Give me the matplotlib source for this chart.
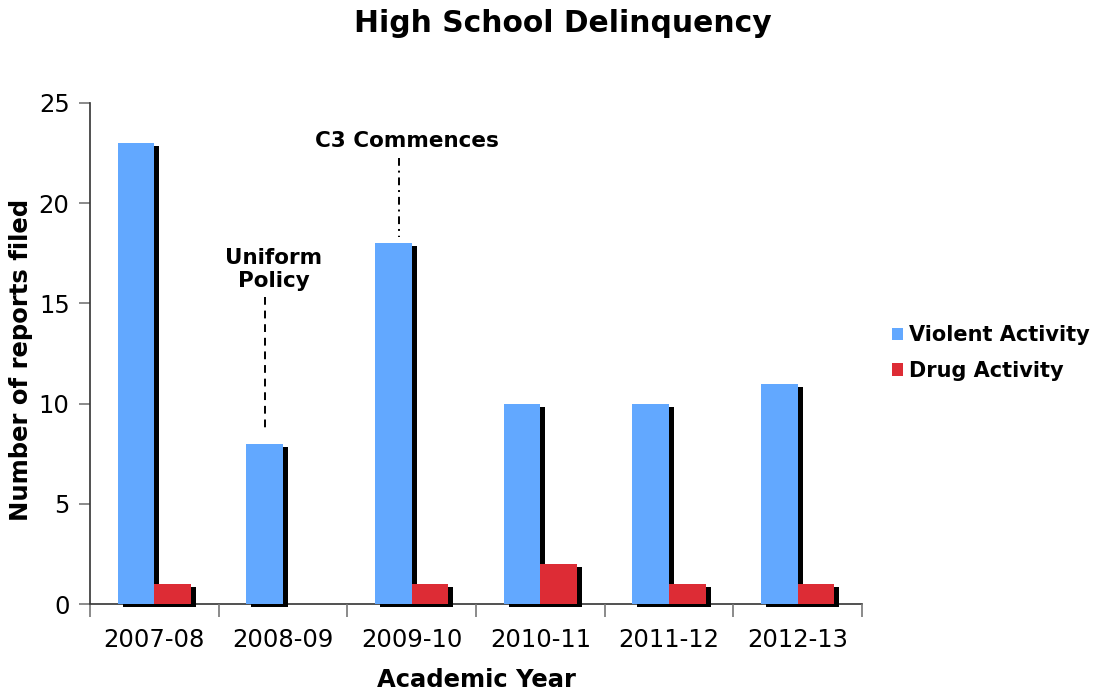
import matplotlib
matplotlib.use("Agg")
import matplotlib.pyplot as plt
import matplotlib.patheffects as pe
import numpy as np

years = ["2007-08", "2008-09", "2009-10", "2010-11", "2011-12", "2012-13"]
violent = [23, 8, 18, 10, 10, 11]
drug = [1, 0, 1, 2, 1, 1]
series_names = ["Violent Activity", "Drug Activity"]
colors = ["#62A8FF", "#DD2C35"]

plt.rcParams['font.family'] = ['DejaVu Sans']

fig = plt.figure(figsize=(10.98, 6.92), dpi=100)
ax = fig.add_axes([90/1098, 1-604/692, 772/1098, 501/692])

x = np.arange(len(years))
w = 0.285
shadow = [pe.SimplePatchShadow(offset=(3.6, -2.2), shadow_rgbFace='black', alpha=1.0), pe.Normal()]
b1 = ax.bar(x - w/2, violent, w, color=colors[0], label=series_names[0], linewidth=0, clip_on=False, zorder=2)
b2 = ax.bar(x + w/2, drug, w, color=colors[1], label=series_names[1], linewidth=0, clip_on=False, zorder=3)
for b in list(b1) + list(b2):
    if b.get_height() > 0:
        b.set_path_effects(shadow)
    else:
        b.set_visible(False)

ax.set_xlim(-0.5, len(years) - 0.5)
ax.set_ylim(0, 25)
ax.set_yticks([0, 5, 10, 15, 20, 25])
ax.set_xticks(x)
ax.set_xticklabels(years, fontsize=17.5)
ax.set_xticks(np.arange(len(years) + 1) - 0.5, minor=True)
ax.tick_params(axis='x', which='major', length=0, pad=17)
ax.tick_params(axis='x', which='minor', length=9, color='#777777', width=1.2)
ax.tick_params(axis='y', length=8, color='#777777', width=1.2, labelsize=17.5, pad=6.7)
for s in ['top', 'right']:
    ax.spines[s].set_visible(False)
for s in ['left', 'bottom']:
    ax.spines[s].set_color('#333333')
    ax.spines[s].set_linewidth(1.2)
ax.spines['bottom'].set_zorder(1)

ax.set_xlabel("Academic Year", fontsize=17.5, fontweight='bold', labelpad=11.6)
ax.set_ylabel("Number of reports filed", fontsize=17.5, fontweight='bold')
ax.yaxis.set_label_coords(-0.074, 0.487)
fig.text(563/1098, 1-23/692, "High School Delinquency", fontsize=21.4, fontweight='bold', ha='center', va='center')

# annotations
ax.text(0.93, 16.7, "Uniform\nPolicy", ha='center', va='center', fontsize=15.5,
        fontweight='bold', linespacing=1.15)
ax.plot([0.86, 0.86], [15.3, 8.6], color='black', lw=1.4, linestyle=(0, (4, 3)))
ax.text(1.96, 23.1, "C3 Commences", ha='center', va='center', fontsize=15.5, fontweight='bold')
ax.plot([1.9, 1.9], [22.25, 18.3], color='black', lw=1.4, linestyle=(0, (4, 2.5, 1, 2.5)))

leg = fig.legend(handles=[b1, b2], labels=series_names, loc='center left',
                 bbox_to_anchor=(873/1098, 1-353/692), frameon=False,
                 prop={'size': 15, 'weight': 'bold'}, handlelength=0.55, handleheight=0.55,
                 handletextpad=0.3, labelspacing=0.75)
for h in leg.legend_handles:
    h.set_path_effects([])

fig.savefig("out.png", dpi=100)
